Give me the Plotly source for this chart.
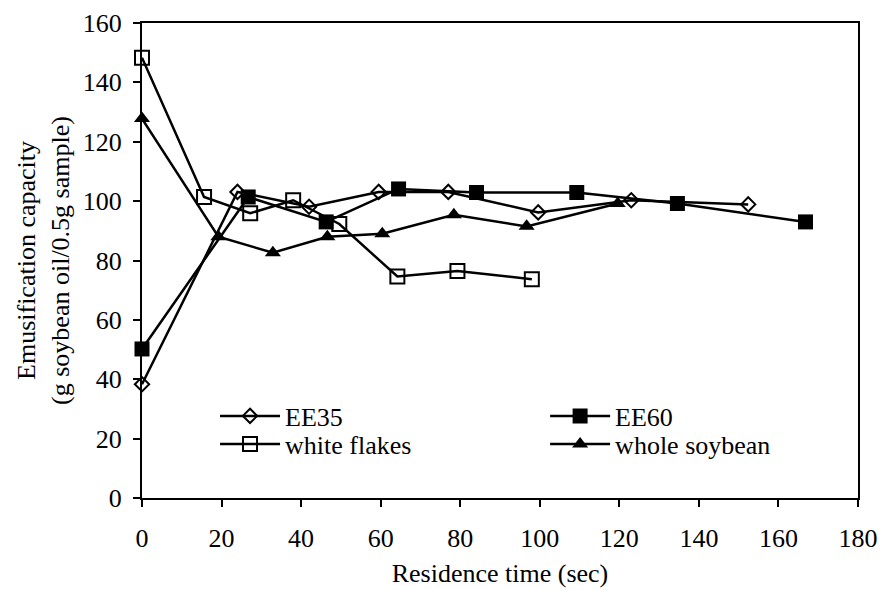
import plotly.graph_objects as go

ee35_x = [0, 24, 42, 59.5, 77, 99.6, 123, 152.4]
ee35_y = [38.3, 103.1, 98.1, 103.1, 103.1, 96.2, 100.3, 98.9]

ee60_x = [0, 26.7, 46.3, 64.5, 84.1, 109.3, 134.6, 166.8]
ee60_y = [50.2, 101.4, 93.0, 104.1, 102.9, 102.9, 99.2, 93.0]

wf_x = [0, 15.6, 27.2, 38.0, 49.6, 64.2, 79.3, 98.0]
wf_y = [148.3, 101.4, 95.9, 100.3, 92.3, 74.6, 76.5, 73.7]

ws_x = [0, 19.2, 32.9, 46.6, 60.4, 78.4, 96.7, 119.6]
ws_y = [127.8, 88.0, 82.6, 88.0, 89.0, 95.4, 91.5, 99.2]

FONT = "Liberation Serif"
LINE = dict(color="black", width=2.5)

fig = go.Figure()
fig.add_trace(go.Scatter(x=ee35_x, y=ee35_y, name="EE35", mode="lines+markers", line=LINE,
                         marker=dict(symbol="diamond-open", size=11, color="black", line=dict(width=2)),
                         cliponaxis=False, legend="legend"))
fig.add_trace(go.Scatter(x=ee60_x, y=ee60_y, name="EE60", mode="lines+markers", line=LINE,
                         marker=dict(symbol="square", size=15, color="black"),
                         cliponaxis=False, legend="legend2"))
fig.add_trace(go.Scatter(x=wf_x, y=wf_y, name="white flakes", mode="lines+markers", line=LINE,
                         marker=dict(symbol="square-open", size=14, color="black", line=dict(width=2)),
                         cliponaxis=False, legend="legend3"))
fig.add_trace(go.Scatter(x=ws_x, y=ws_y, name="whole soybean", mode="lines+markers", line=LINE,
                         marker=dict(symbol="triangle-up", size=14, color="black"),
                         cliponaxis=False, legend="legend4"))

lc = dict(font=dict(family=FONT, size=26, color="black"), bgcolor="rgba(0,0,0,0)",
          itemwidth=60, yanchor="middle", xanchor="left", borderwidth=0)
c1, c2 = 0.102, 0.563
r1, r2 = 0.1726, 0.1137
fig.update_layout(
    width=880, height=590,
    margin=dict(l=142, r=22, t=23, b=92, autoexpand=False),
    paper_bgcolor="white", plot_bgcolor="white",
    showlegend=True,
    font=dict(family=FONT, size=26, color="black"),
    legend=dict(x=c1, y=r1, **lc),
    legend2=dict(x=c2, y=r1, **lc),
    legend3=dict(x=c1, y=r2, **lc),
    legend4=dict(x=c2, y=r2, **lc),
    xaxis=dict(range=[0, 180], tickvals=list(range(0, 181, 20)), showgrid=False, zeroline=False,
               showline=True, linecolor="black", linewidth=2, mirror=True, automargin=False,
               ticks="outside", ticklen=7, tickwidth=1.5, tickcolor="black",
               tickfont=dict(family=FONT, size=26), ticklabelstandoff=9,
               title=dict(text="Residence time (sec)", font=dict(family=FONT, size=26), standoff=12)),
    yaxis=dict(range=[0, 160], tickvals=list(range(0, 161, 20)), showgrid=False, zeroline=False,
               showline=True, linecolor="black", linewidth=2, mirror=True, automargin=False,
               ticks="outside", ticklen=7, tickwidth=1.5, tickcolor="black",
               tickfont=dict(family=FONT, size=26), ticklabelstandoff=6,
               title=dict(text="Emusification capacity<br>(g soybean oil/0.5g sample)",
                          font=dict(family=FONT, size=26), standoff=6)),
)

fig.write_html("out.html")
